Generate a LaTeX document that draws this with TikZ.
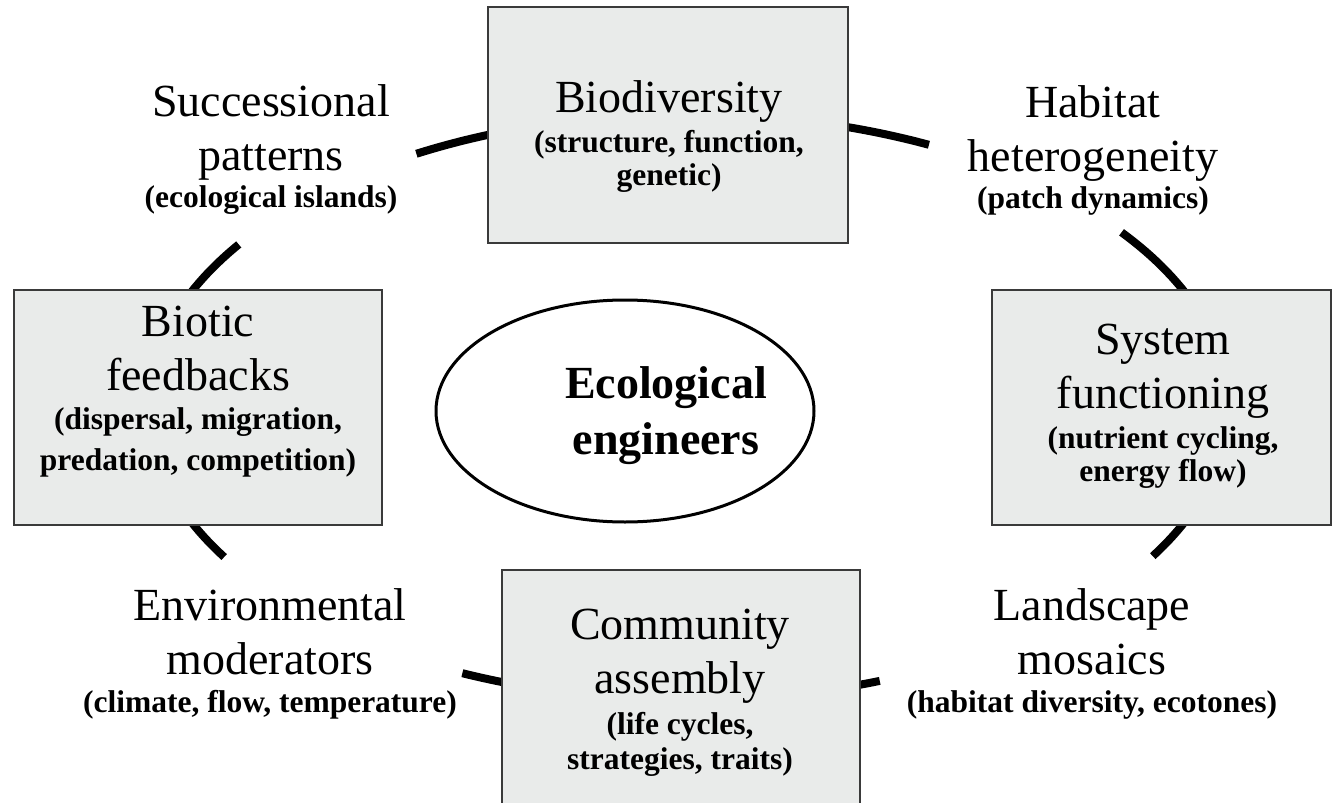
\documentclass[tikz,border=0pt]{standalone}
\usepackage{fontspec}
\setmainfont{Liberation Serif}
\usetikzlibrary{shapes.geometric}
\definecolor{boxfill}{HTML}{E9EBEA}
\definecolor{boxline}{HTML}{3A3A3A}
\newcommand\bigt{\fontsize{46}{54}\selectfont}
\newcommand\subt{\fontsize{31.5}{36}\selectfont\bfseries}
\begin{document}
\begin{tikzpicture}[x=1pt,y=-1pt,
  ring/.style={line width=8pt, black},
  panel/.style={draw=boxline, line width=2pt, fill=boxfill, rectangle, inner sep=0pt},
  lbl/.style={align=center, inner sep=0pt, font=\bigt, text=black},
]
\useasboundingbox (0,0) rectangle (1334,803);
% outer ring segments
\draw[ring] plot[domain=63.5:120.2, samples=60] ({688+540*cos(\x)},{407-293*sin(\x)});
\draw[ring] plot[domain=-30.6:36.6, samples=60] ({688+540*cos(\x)},{407-293*sin(\x)});
\draw[ring] plot[domain=245.3:290.8, samples=60] ({688+540*cos(\x)},{407-293*sin(\x)});
\draw[ring] plot[domain=146.3:210.8, samples=60] ({688+540*cos(\x)},{407-293*sin(\x)});
% boxes
\node[panel, minimum width=360pt, minimum height=236pt] (bio) at (668,125) {};
\node[panel, minimum width=368pt, minimum height=235pt] (biotic) at (198,407.5) {};
\node[panel, minimum width=339pt, minimum height=235pt] (sys) at (1161.5,407.5) {};
\node[panel, minimum width=358pt, minimum height=245pt] (comm) at (681,692.5) {};
% centre
\node[draw, ellipse, line width=3pt, minimum width=378pt, minimum height=222pt, inner sep=0pt] (ee) at (625,411) {};
\node[align=center, inner sep=0pt, font=\fontsize{46}{56}\selectfont\bfseries] (eet) at (666,416) {Ecological\\engineers};
% labels
\node[lbl] (biot) at (669,137) {Biodiversity\\[-14pt]\subt (structure, function,\\[-21pt]\subt genetic)};
\node[lbl] (succ) at (271,150) {Successional\\patterns\\[-17pt]\subt (ecological islands)};
\node[lbl] (habt) at (1093,150) {Habitat\\heterogeneity\\[-17pt]\subt (patch dynamics)};
\node[lbl] (bfbt) at (198,392) {Biotic\\feedbacks\\[-15pt]\subt (dispersal, migration,\\[-13pt]\subt predation, competition)};
\node[lbl] (syst) at (1163,406) {System\\functioning\\[-14pt]\subt (nutrient cycling,\\[-21pt]\subt energy flow)};
\node[lbl] (envt) at (270,654) {Environmental\\moderators\\[-16pt]\subt (climate, flow, temperature)};
\node[lbl] (comt) at (680,693) {Community\\assembly\\[-13pt]\subt (life cycles,\\[-19pt]\subt strategies, traits)};
\node[lbl] (lant) at (1092,654) {Landscape\\mosaics\\[-16pt]\subt (habitat diversity, ecotones)};
\end{tikzpicture}
\end{document}
